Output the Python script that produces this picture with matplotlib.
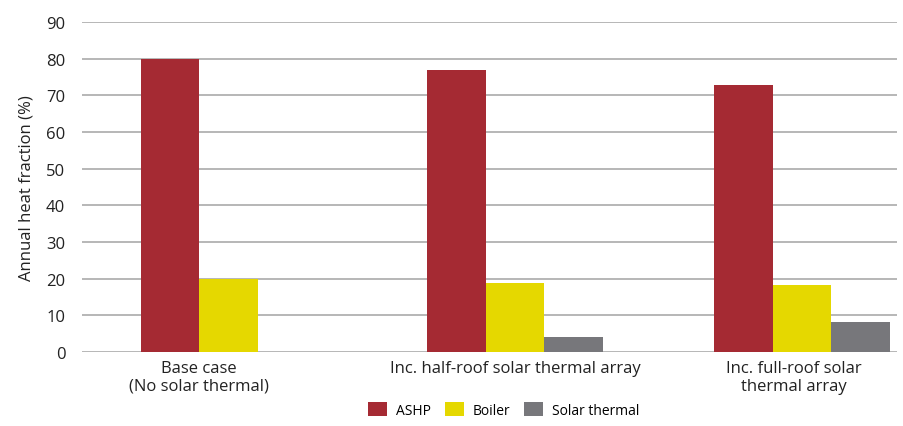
import matplotlib.pyplot as plt
import numpy as np

plt.rcParams['font.family'] = ['Open Sans', 'DejaVu Sans']

categories = ["Base case\n(No solar thermal)",
              "Inc. half-roof solar thermal array",
              "Inc. full-roof solar\nthermal array"]
series = ["ASHP", "Boiler", "Solar thermal"]
ashp = [80, 76.9, 72.8]
boiler = [20, 18.9, 18.3]
solar = [0, 4.0, 8.3]
colors = ["#A52A33", "#E5D800", "#77777B"]

fig = plt.figure(figsize=(9.04, 4.27), dpi=100)
ax = fig.add_axes([0.0907, 0.1733, 0.9013, 0.7727])

x = np.arange(len(categories))
w = 0.204
for i, (vals, name) in enumerate(zip([ashp, boiler, solar], series)):
    ax.bar(x + (i - 1) * w, vals, w, color=colors[i], label=name, zorder=3)

ax.set_ylim(0, 90)
ax.set_yticks(range(0, 91, 10))
ax.set_xlim(-0.51, 2.33)
# base case has no solar bar, so its label sits under the two bars
ax.set_xticks([x[0] - w / 2, x[1], x[2] - 0.03])
ax.set_xticklabels(categories, fontsize=12, color="#222222", linespacing=1.1)
ax.tick_params(axis="both", length=0, labelsize=12, colors="#222222")
ax.tick_params(axis="y", pad=12)
ax.tick_params(axis="x", pad=6)
ax.grid(axis="y", color="#AAAAAA", linewidth=1.2, zorder=0)
for s in ax.spines.values():
    s.set_visible(False)
ax.set_ylabel("Annual heat fraction (%)", fontsize=12, color="#222222", labelpad=8)

fig.legend(loc="lower center", bbox_to_anchor=(0.557, -0.01), ncol=3, frameon=False,
           fontsize=10, handlelength=1.4, handleheight=1.2, columnspacing=1.0,
           handletextpad=0.6)

fig.savefig("out.png", dpi=100)
